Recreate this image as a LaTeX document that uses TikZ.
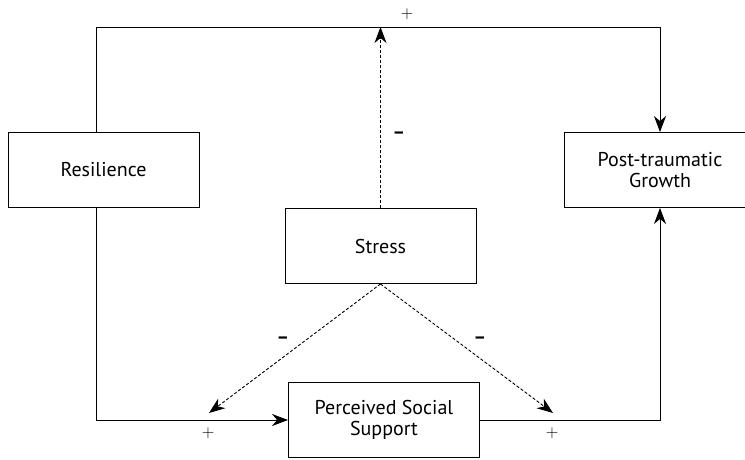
\documentclass[tikz,border=0pt]{standalone}
\usepackage{fontspec}
\setmainfont{PT Sans}
\usepackage{tikz}
\usetikzlibrary{arrows.meta}

\begin{document}
\begin{tikzpicture}[x=1pt,y=-1pt,line width=0.9pt,>={Stealth[length=16pt,width=12pt,inset=5pt]}]
            \tikzstyle{factor}=[rectangle,draw=black,fill=white,minimum width=191pt,minimum height=75pt,inner sep=0pt,align=center,font=\fontsize{20}{21}\selectfont]
            \tikzstyle{sign}=[inner sep=0pt,font=\fontsize{18}{18}\selectfont]
            \clip (0,0) rectangle (745,460);

            \node[factor] (res) at (103.5,170) {Resilience};
            \node[factor] (ptg) at (660,170) {Post-traumatic\\Growth};
            \node[factor] (stress) at (380.5,246) {Stress};
            \node[factor] (pss) at (384,420) {Perceived Social\\Support};

            \coordinate (tl) at (96,27);
            \coordinate (tr) at (660,27);
            \coordinate (dl) at (209,413);
            \coordinate (dr) at (553,413);

            \draw (res.north -| tl) -- (tl) -- (tr);
            \draw[->] (tr) -- (ptg.north);
            \draw[->] (res.south -| tl) |- (pss.west);
            \draw[->] (pss.east) -| (ptg.south);

            \draw[->,dashed,dash pattern=on 3pt off 2pt] (stress.north) -- (stress.north |- tl);
            \foreach \to in {dl, dr}
                \draw[->,dashed,dash pattern=on 3pt off 2pt] (stress.south) -- (\to);

            \foreach \name/\x/\y in {pa/407/14, pb/208/433, pc/552/433}
                \node[sign] (\name) at (\x,\y) {$+$};
            \foreach \name/\x/\y in {ma/399/135, mb/283/340, mc/480/340}
                \node[sign] (\name) at (\x,\y) {\fontsize{19}{19}\selectfont\textbf{--}};
        \end{tikzpicture}
\end{document}
